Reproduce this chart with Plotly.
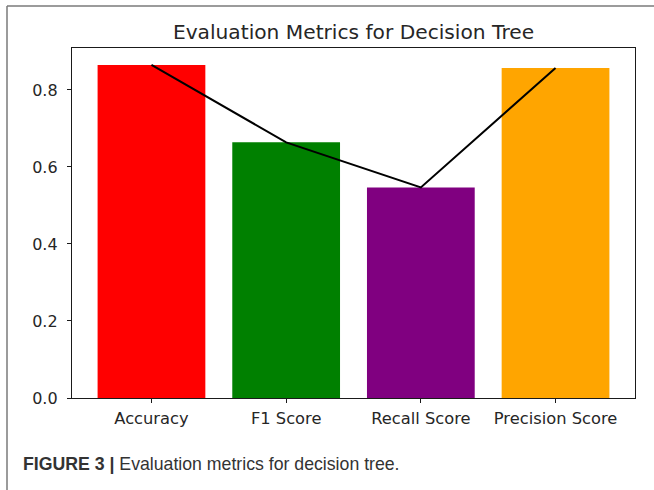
import plotly.graph_objects as go

categories = ["Accuracy", "F1 Score", "Recall Score", "Precision Score"]
scores = [0.865, 0.664, 0.547, 0.857]
bar_colors = ["#ff0000", "#008000", "#800080", "#ffa500"]
y_ticks = [0.0, 0.2, 0.4, 0.6, 0.8]
y_tick_labels = ["0.0", "0.2", "0.4", "0.6", "0.8"]

W, H = 654, 490
L, R, T, B = 72, 635, 48, 398

def px(x):
    return (x - L) / (R - L)

def py(y):
    return (B - y) / (B - T)

fig = go.Figure()
fig.add_trace(go.Bar(x=categories, y=scores, marker=dict(color=bar_colors, line=dict(width=0)),
                     width=0.8, showlegend=False))
fig.add_trace(go.Scatter(x=categories, y=scores, mode="lines",
                         line=dict(color="black", width=2), showlegend=False))

fig.update_layout(
    width=W, height=H,
    margin=dict(l=L, r=W - R, t=T, b=H - B, pad=0),
    paper_bgcolor="white", plot_bgcolor="white",
    font=dict(family="DejaVu Sans", size=16, color="#262626"),
    title=dict(text="Evaluation Metrics for Decision Tree", x=0.5, xref="paper", xanchor="center",
               y=1 - 32 / H, yref="container", yanchor="middle",
               font=dict(family="DejaVu Sans", size=20.2, color="#262626")),
    bargap=0.2,
)
fig.update_xaxes(range=[-0.59, 3.59], showline=True, mirror=True, linecolor="#1a1a1a", linewidth=1.3,
                 ticks="outside", ticklen=4, tickcolor="#1a1a1a", tickwidth=1.3, showgrid=False,
                 zeroline=False, tickfont=dict(size=16.3), ticklabelstandoff=1)
fig.update_yaxes(range=[0, 0.909], tickvals=y_ticks, ticktext=y_tick_labels, showline=True, mirror=True,
                 linecolor="#1a1a1a", linewidth=1.3, ticks="outside", ticklen=4, tickcolor="#1a1a1a",
                 tickwidth=1.3, showgrid=False, zeroline=False, tickfont=dict(size=16),
                 ticklabelstandoff=6)

# figure frame (top and left border)
fig.add_shape(type="line", xref="paper", yref="paper", x0=px(7), x1=px(660), y0=py(6), y1=py(6),
              line=dict(color="#7a7a7a", width=1.5))
fig.add_shape(type="line", xref="paper", yref="paper", x0=px(7), x1=px(7), y0=py(6), y1=py(495),
              line=dict(color="#7a7a7a", width=1.5))

fig.add_annotation(xref="paper", yref="paper", x=px(21), y=py(464), xanchor="left", yanchor="middle",
                   showarrow=False,
                   text="<b>FIGURE 3 |</b> Evaluation metrics for decision tree.",
                   font=dict(family="Liberation Sans", size=17.7, color="#333333"))

fig.write_html("out.html", config={"displayModeBar": False},
               post_script="document.body.style.margin='0';")
